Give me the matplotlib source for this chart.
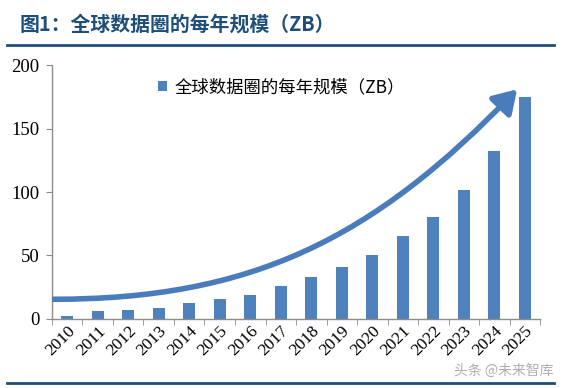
import matplotlib
matplotlib.use("Agg")
import matplotlib.pyplot as plt
from matplotlib.path import Path
from matplotlib.patches import FancyArrowPatch
from matplotlib.lines import Line2D
import numpy as np

years = ["2010", "2011", "2012", "2013", "2014", "2015", "2016", "2017",
         "2018", "2019", "2020", "2021", "2022", "2023", "2024", "2025"]
values = [2, 6, 7, 9, 12.5, 16, 18.5, 26, 33, 41, 50.5, 65, 80.5, 101.5, 132, 175]
yticks = [0, 50, 100, 150, 200]
title = "图1：全球数据圈的每年规模（ZB）"
legend_label = "全球数据圈的每年规模（ZB）"
# trend arrow: cubic Bezier start, controls, end (x in category index, y in ZB)
arrow_pts = [(-0.45, 15.5), (6.0, 15.5), (10.0, 62.0), (14.75, 181.0)]

bar_color = "#4F81BD"
arrow_color = "#4A7CBB"
title_color = "#1F4E79"

fig = plt.figure(figsize=(5.67, 3.88), dpi=100)
ax = fig.add_axes([0.0917, 0.178, 0.8607, 0.654])

x = np.arange(len(years))
ax.bar(x, values, width=0.38, color=bar_color, zorder=2, label=legend_label)

ax.set_xlim(-0.5, len(years) - 0.5)
ax.set_ylim(0, 200)
ax.set_yticks(yticks)
ax.set_yticklabels([str(v) for v in yticks], fontfamily="Liberation Serif", fontsize=13.5)

ax.set_xticks(x)
ax.set_xticklabels(years, rotation=45, ha="right", va="top", rotation_mode="anchor",
                   fontfamily="Liberation Serif", fontsize=12.5)
ax.tick_params(axis="x", which="major", length=0, pad=3)
ax.set_xticks(np.arange(-0.5, len(years), 1), minor=True)
ax.tick_params(axis="x", which="minor", length=4, color="#8c8c8c", direction="out")
ax.tick_params(axis="y", length=4, color="#8c8c8c", direction="out", pad=5)

for s in ["top", "right"]:
    ax.spines[s].set_visible(False)
for s in ["left", "bottom"]:
    ax.spines[s].set_color("#8c8c8c")
    ax.spines[s].set_linewidth(1)

# trend arrow
path = Path(arrow_pts, [Path.MOVETO, Path.CURVE4, Path.CURVE4, Path.CURVE4])
arr = FancyArrowPatch(path=path, arrowstyle="-|>,head_length=8,head_width=5",
                      color=arrow_color, lw=4, zorder=3, mutation_scale=1.7)
ax.add_patch(arr)

leg = ax.legend(loc="upper left", bbox_to_anchor=(0.185, 1.01), frameon=False,
                prop={"family": ["Noto Sans CJK SC", "DejaVu Sans"], "size": 12.5},
                handlelength=0.55, handleheight=0.55, handletextpad=0.4)

# title and rules
fig.text(0.035, 0.937, title, fontsize=14.3, fontweight="bold", color=title_color,
         family=["Noto Sans CJK SC", "DejaVu Sans"], va="center", ha="left")
fig.add_artist(Line2D([0.012, 0.977], [0.884, 0.884], color=title_color, lw=2))
fig.add_artist(Line2D([0.012, 0.977], [0.013, 0.013], color=title_color, lw=2))

# watermark
fig.text(0.80, 0.045, "头条 @未来智库", fontsize=10, color="#9a9a9a", alpha=0.8,
         family=["Noto Sans CJK SC", "DejaVu Sans"], ha="left", va="center")

fig.savefig("out.png", dpi=100)
